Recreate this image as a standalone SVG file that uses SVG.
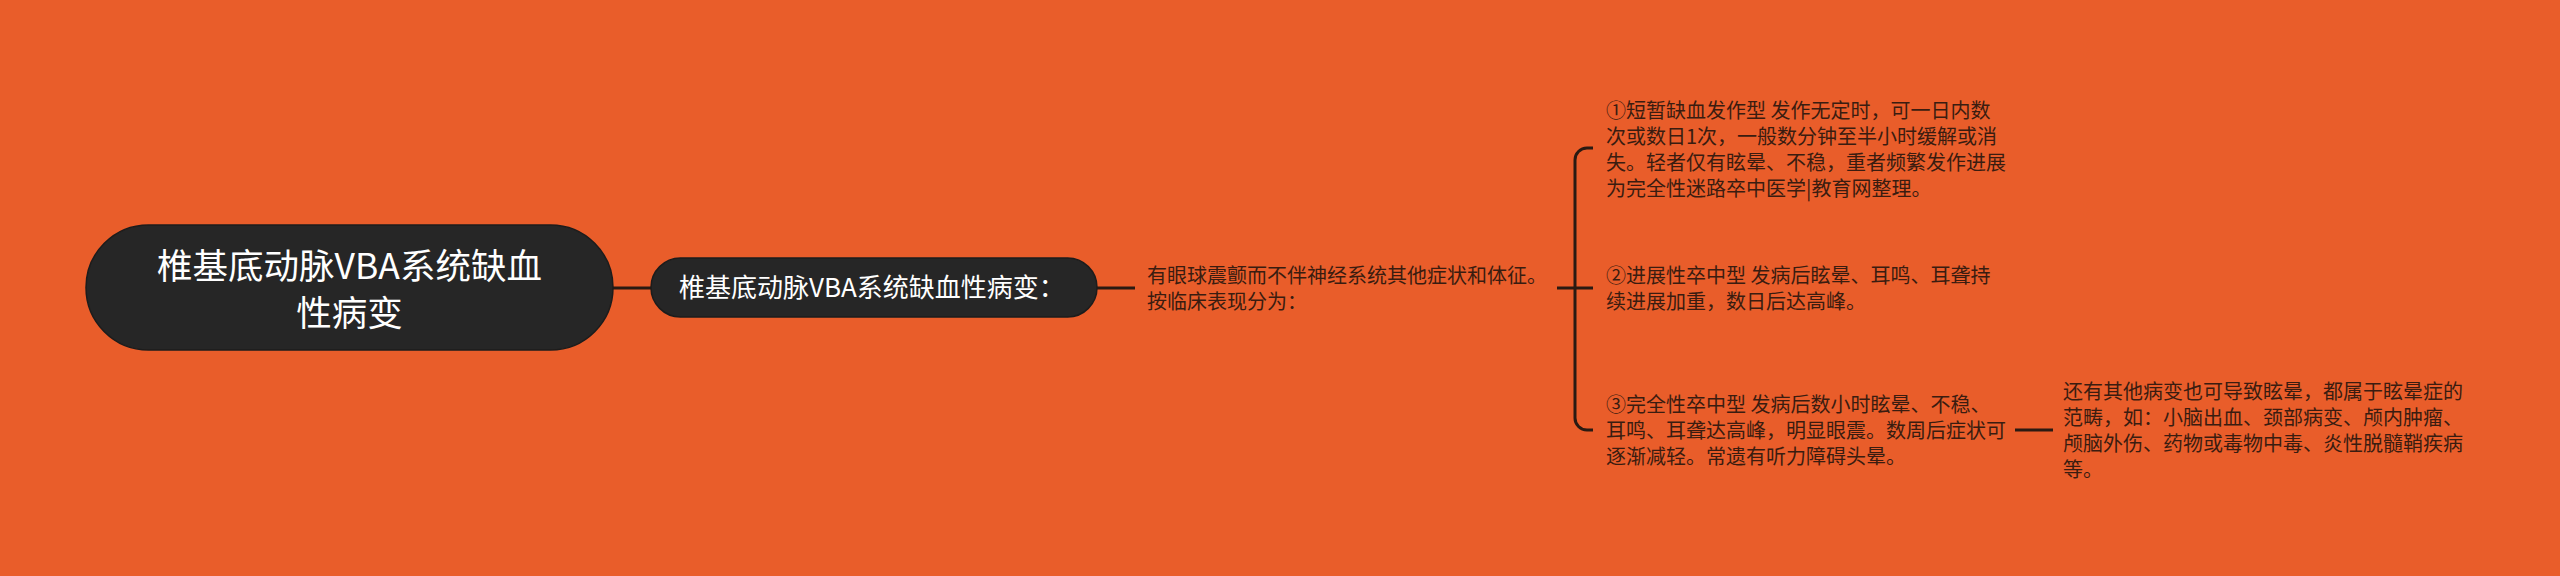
<svg xmlns="http://www.w3.org/2000/svg" width="2560" height="576" viewBox="0 0 2560 576">
<style>
.bg{fill:#E95D2A}
.pill{fill:#262626;stroke:#1c1c1c;stroke-width:1.5}
.wt{fill:#ffffff;font-family:"Noto Sans CJK SC","Noto Sans",sans-serif}
.dt{fill:#3a1c10;font-family:"Noto Sans CJK SC","Noto Sans",sans-serif;font-size:20px}
.ln{fill:none;stroke:#2a1a12;stroke-width:3;stroke-linecap:butt}
</style>
<rect class="bg" x="0" y="0" width="2560" height="576"/>
<g id="connectors">
<path class="ln" d="M613,288 H651"/>
<path class="ln" d="M1097,288 H1135"/>
<path class="ln" d="M1557,288 H1593"/>
<path class="ln" d="M1593,148 H1587 A12,12 0 0 0 1575,160 V418 A12,12 0 0 0 1587,430 H1593"/>
<path class="ln" d="M2015,430 H2053"/>
</g>
<g id="root">
<rect class="pill" x="86" y="225" width="527" height="125" rx="62.5"/>
<text class="wt" font-size="35.5" text-anchor="middle" x="349.5" y="279">椎基底动脉VBA系统缺血</text>
<text class="wt" font-size="35.5" text-anchor="middle" x="349.5" y="326">性病变</text>
</g>
<g id="child">
<rect class="pill" x="651" y="258" width="446" height="59" rx="29.5"/>
<text class="wt" font-size="26" x="679" y="297">椎基底动脉VBA系统缺血性病变：</text>
</g>
<g id="main-text">
<text class="dt" x="1147" y="283">有眼球震颤而不伴神经系统其他症状和体征。</text>
<text class="dt" x="1147" y="309">按临床表现分为：</text>
</g>
<g id="item1">
<text class="dt" x="1606" y="118">①短暂缺血发作型 发作无定时，可一日内数</text>
<text class="dt" x="1606" y="144">次或数日1次，一般数分钟至半小时缓解或消</text>
<text class="dt" x="1606" y="170">失。轻者仅有眩晕、不稳，重者频繁发作进展</text>
<text class="dt" x="1606" y="196">为完全性迷路卒中医学|教育网整理。</text>
</g>
<g id="item2">
<text class="dt" x="1606" y="283">②进展性卒中型 发病后眩晕、耳鸣、耳聋持</text>
<text class="dt" x="1606" y="309">续进展加重，数日后达高峰。</text>
</g>
<g id="item3">
<text class="dt" x="1606" y="412">③完全性卒中型 发病后数小时眩晕、不稳、</text>
<text class="dt" x="1606" y="438">耳鸣、耳聋达高峰，明显眼震。数周后症状可</text>
<text class="dt" x="1606" y="464">逐渐减轻。常遗有听力障碍头晕。</text>
</g>
<g id="item3-note">
<text class="dt" x="2063" y="399">还有其他病变也可导致眩晕，都属于眩晕症的</text>
<text class="dt" x="2063" y="425">范畴，如：小脑出血、颈部病变、颅内肿瘤、</text>
<text class="dt" x="2063" y="451">颅脑外伤、药物或毒物中毒、炎性脱髓鞘疾病</text>
<text class="dt" x="2063" y="477">等。</text>
</g>
</svg>
